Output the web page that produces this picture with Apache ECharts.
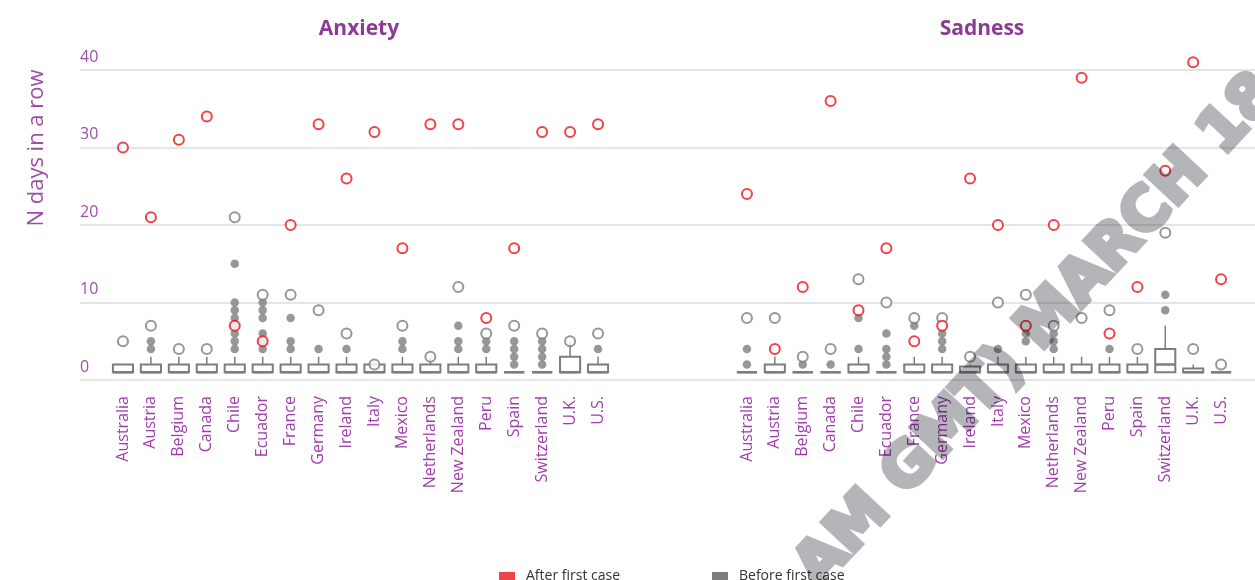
<!DOCTYPE html>
<html>
<head>
<meta charset="utf-8">
<script src="https://cdn.jsdelivr.net/npm/echarts@6/dist/echarts.min.js"></script>
<style>
  html, body { margin: 0; padding: 0; background: #fff; }
  #chart { width: 1255px; height: 580px; position: relative; }
</style>
</head>
<body>
<div id="chart"></div>
<script>
// Countries shown on both panels
const countries = ['Australia', 'Austria', 'Belgium', 'Canada', 'Chile', 'Ecuador', 'France', 'Germany',
  'Ireland', 'Italy', 'Mexico', 'Netherlands', 'New Zealand', 'Peru', 'Spain', 'Switzerland', 'U.K.', 'U.S.'];

// Y axis
const yMin = 0, yMax = 40, yStep = 10;

// ---- Anxiety ----
// Before first case: [whisker low, Q1, median, Q3, whisker high]
const anxietyBox = [
  [1, 1, 1, 2, 2], [1, 1, 1, 2, 3], [1, 1, 1, 2, 3], [1, 1, 1, 2, 3], [1, 1, 1, 2, 3], [1, 1, 1, 2, 3],
  [1, 1, 1, 2, 3], [1, 1, 1, 2, 3], [1, 1, 1, 2, 3], [1, 1, 1, 2, 2], [1, 1, 1, 2, 3], [1, 1, 1, 2, 3],
  [1, 1, 1, 2, 3], [1, 1, 1, 2, 3], [1, 1, 1, 1, 1], [1, 1, 1, 1, 1], [1, 1, 1, 3, 5], [1, 1, 1, 2, 3]
];
// Before first case: outlying runs
const anxietyOutliers = [
  [], [4, 5], [], [], [4, 5, 6, 7, 8, 9, 10, 15], [4, 5, 6, 8, 9, 10], [4, 5, 8], [4], [4], [],
  [4, 5], [], [4, 5, 7], [4, 5], [2, 3, 4, 5], [2, 3, 4, 5], [], [4]
];
// Before first case: longest run
const anxietyLongest = [5, 7, 4, 4, 21, 11, 11, 9, 6, 2, 7, 3, 12, 6, 7, 6, 5, 6];
// After first case
const anxietyAfter = [30, 21, 31, 34, 7, 5, 20, 33, 26, 32, 17, 33, 33, 8, 17, 32, 32, 33];

// ---- Sadness ----
const sadnessBox = [
  [1, 1, 1, 1, 1], [1, 1, 1, 2, 3], [1, 1, 1, 1, 1], [1, 1, 1, 1, 1], [1, 1, 1, 2, 3], [1, 1, 1, 1, 1],
  [1, 1, 1, 2, 3], [1, 1, 1, 2, 3], [1, 1, 1, 1.75, 2], [1, 1, 1, 2, 3], [1, 1, 1, 2, 3], [1, 1, 1, 2, 3],
  [1, 1, 1, 2, 3], [1, 1, 1, 2, 3], [1, 1, 1, 2, 3], [1, 1, 2, 4, 7], [1, 1, 1, 1.5, 2], [1, 1, 1, 1, 1]
];
const sadnessOutliers = [
  [2, 4], [], [2], [2], [4, 8], [2, 3, 4, 6], [7], [4, 5, 6], [], [4],
  [5, 6], [4, 5, 6], [], [4], [], [9, 11], [], []
];
const sadnessLongest = [8, 8, 3, 4, 13, 10, 8, 8, 3, 10, 11, 7, 8, 9, 4, 19, 4, 2];
const sadnessAfter = [24, 4, 12, 36, 9, 17, 5, 7, 26, 20, 7, 20, 39, 6, 12, 27, 41, 13];

const RED = '#e8141c';
const GREY = '#7d7d7d';
const PURPLE = '#8c3a96';
const LABEL_PURPLE = '#a03dab';
const FONT = '"Open Sans", "Noto Sans", sans-serif';

function renderBox(params, api) {
  const i = api.value(0);
  const xc = api.coord([i, api.value(1)])[0];
  const yQ1 = api.coord([i, api.value(2)])[1];
  const yMed = api.coord([i, api.value(3)])[1];
  const yQ3 = api.coord([i, api.value(4)])[1];
  const yHi = api.coord([i, api.value(5)])[1];
  const half = api.size([1, 0])[0] * 0.36;
  const children = [];
  if (yHi < yQ3) {
    children.push({ type: 'line', shape: { x1: xc, y1: yQ3, x2: xc, y2: yHi },
      style: { stroke: GREY, lineWidth: 1.5 } });
  }
  children.push({ type: 'rect', shape: { x: xc - half, y: yQ3, width: half * 2, height: yQ1 - yQ3 },
    style: { stroke: GREY, lineWidth: 2, fill: '#fff' } });
  children.push({ type: 'line', shape: { x1: xc - half, y1: yMed, x2: xc + half, y2: yMed },
    style: { stroke: GREY, lineWidth: 2.5 } });
  return { type: 'group', children };
}

function panelSeries(axisIndex, box, outliers, longest, after) {
  return [
    {
      name: 'Before first case', type: 'custom', xAxisIndex: axisIndex, yAxisIndex: axisIndex,
      renderItem: renderBox, itemStyle: { color: GREY },
      encode: { x: 0, y: [1, 2, 3, 4, 5] },
      data: box.map((b, i) => [i, ...b]), z: 2
    },
    {
      name: 'Before first case', type: 'scatter', xAxisIndex: axisIndex, yAxisIndex: axisIndex,
      symbol: 'circle', symbolSize: 8.5, itemStyle: { color: GREY }, clip: false,
      data: outliers.flatMap((vals, i) => vals.map(v => [i, v])), z: 3
    },
    {
      name: 'Before first case', type: 'scatter', xAxisIndex: axisIndex, yAxisIndex: axisIndex,
      symbol: 'emptyCircle', symbolSize: 10, itemStyle: { color: GREY, borderWidth: 2.4 }, clip: false,
      data: longest.map((v, i) => [i, v]), z: 4
    },
    {
      name: 'After first case', type: 'scatter', xAxisIndex: axisIndex, yAxisIndex: axisIndex,
      symbol: 'emptyCircle', symbolSize: 10, itemStyle: { color: RED, borderWidth: 2.4 }, clip: false,
      data: after.map((v, i) => [i, v]), z: 5
    }
  ];
}

const GRID_TOP = 70, GRID_H = 310;

function categoryAxis(gridIndex) {
  return {
    type: 'category', gridIndex, data: countries, boundaryGap: true,
    axisLine: { show: false }, axisTick: { show: false }, splitLine: { show: false },
    axisLabel: { rotate: 90, margin: 16, interval: 0, color: LABEL_PURPLE, fontSize: 16, fontFamily: FONT }
  };
}
function hiddenValueAxis(gridIndex) {
  return { type: 'value', gridIndex, min: yMin, max: yMax, interval: yStep, show: false };
}

const chart = echarts.init(document.getElementById('chart'));
chart.setOption({
  animation: false,
  backgroundColor: '#fff',
  title: [
    { text: 'Anxiety', left: 359, top: 19, textAlign: 'center', padding: 0,
      textStyle: { color: PURPLE, fontSize: 21, fontWeight: 'bold', fontFamily: FONT } },
    { text: 'Sadness', left: 982, top: 19, textAlign: 'center', padding: 0,
      textStyle: { color: PURPLE, fontSize: 21, fontWeight: 'bold', fontFamily: FONT } }
  ],
  legend: [
    { data: [{ name: 'After first case', icon: 'rect', itemStyle: { color: RED } }],
      left: 499, top: 568, padding: 0, itemWidth: 16, itemHeight: 8, selectedMode: false,
      textStyle: { color: '#333', fontSize: 14, fontFamily: FONT, padding: [0, 0, 0, 6], lineHeight: 16 } },
    { data: [{ name: 'Before first case', icon: 'rect', itemStyle: { color: GREY } }],
      left: 712, top: 568, padding: 0, itemWidth: 16, itemHeight: 8, selectedMode: false,
      textStyle: { color: '#333', fontSize: 14, fontFamily: FONT, padding: [0, 0, 0, 6], lineHeight: 16 } }
  ],
  grid: [
    { left: 80, right: 0, top: GRID_TOP, height: GRID_H },
    { left: 109, width: 503, top: GRID_TOP, height: GRID_H },
    { left: 733, width: 502, top: GRID_TOP, height: GRID_H }
  ],
  xAxis: [
    { type: 'value', gridIndex: 0, min: 0, max: 1, show: false },
    categoryAxis(1),
    categoryAxis(2)
  ],
  yAxis: [
    {
      type: 'value', gridIndex: 0, min: yMin, max: yMax, interval: yStep,
      axisLine: { show: false }, axisTick: { show: false },
      splitLine: { lineStyle: { color: '#dcdcdc', width: 1.5 } },
      axisLabel: { inside: true, margin: 0, align: 'left', verticalAlign: 'bottom',
        padding: [0, 0, 5, 0], lineHeight: 16, color: '#9b52a5', fontSize: 16, fontFamily: FONT }
    },
    hiddenValueAxis(1),
    hiddenValueAxis(2)
  ],
  series: [
    ...panelSeries(1, anxietyBox, anxietyOutliers, anxietyLongest, anxietyAfter),
    ...panelSeries(2, sadnessBox, sadnessOutliers, sadnessLongest, sadnessAfter)
  ],
  graphic: [
    {
      type: 'text', x: 37, y: 148, rotation: Math.PI / 2, silent: true,
      style: { text: 'N days in a row', font: '22px ' + FONT, fill: '#9b4fa5',
        align: 'center', verticalAlign: 'middle', textAlign: 'center', textVerticalAlign: 'middle' }
    },
    {
      // stamp drawn on its own layer, multiplied onto the chart below
      type: 'text', x: 1038, y: 332, rotation: 47 * Math.PI / 180, silent: true, zlevel: 1,
      style: { text: 'AM GMT) MARCH 18', font: 'bold 60px "DejaVu Sans"', fill: '#b4b5b8',
        stroke: '#b4b5b8', lineWidth: 5, lineJoin: 'round',
        align: 'center', verticalAlign: 'middle', textAlign: 'center', textVerticalAlign: 'middle' }
    }
  ]
});

// let the stamp layer darken whatever lies underneath it
const stampLayer = chart.getZr().painter.getLayer(1);
if (stampLayer && stampLayer.dom) {
  stampLayer.dom.style.mixBlendMode = 'multiply';
}
</script>
</body>
</html>
